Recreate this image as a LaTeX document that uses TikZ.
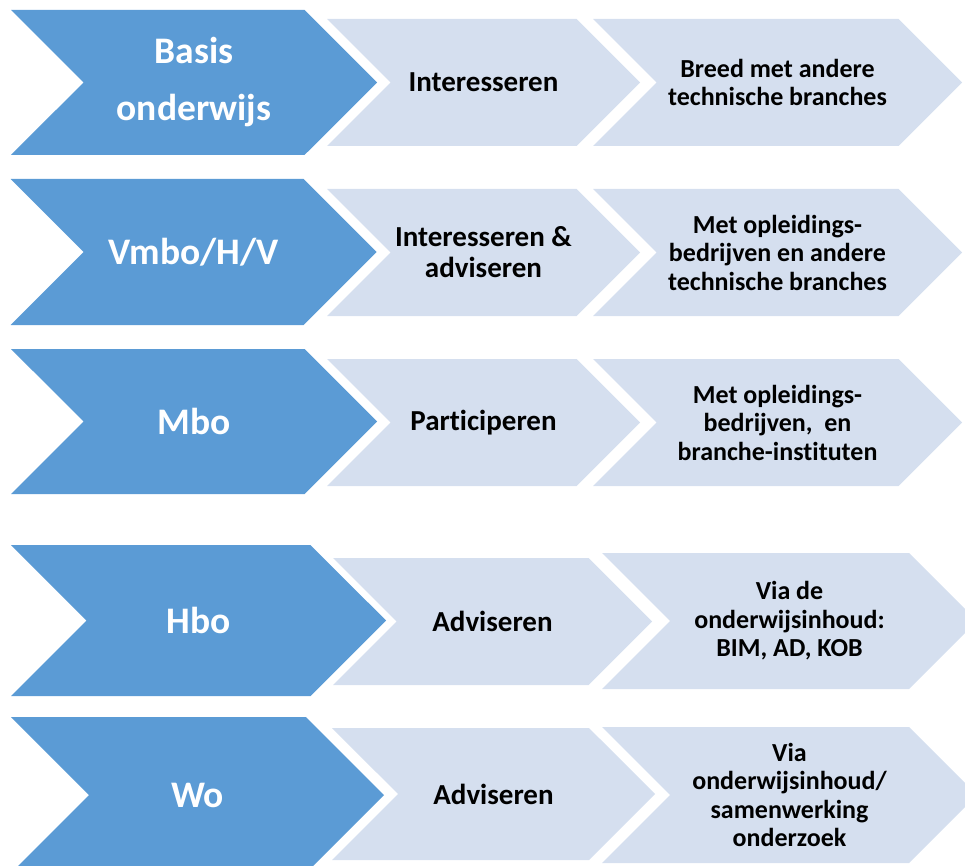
\documentclass[tikz,border=0pt]{standalone}
\usepackage{fontspec}
\setmainfont{Carlito}[Ligatures=NoCommon, Contextuals=NoAlternate]
\usepackage{tikz}
\usetikzlibrary{shapes}

\definecolor{donker}{RGB}{91,155,213}
\definecolor{licht}{RGB}{213,223,239}

\begin{document}
\begin{tikzpicture}[x=1pt, y=-1pt,
		every node/.style={shape=signal, signal to=east, signal from=west, signal pointer angle=90, inner sep=0pt, outer sep=0pt, align=center},
		soort/.style={fill=donker, text=white, font=\bfseries\fontsize{37.5}{57}\selectfont},
		rol/.style={fill=licht, font=\bfseries\fontsize{29}{31}\selectfont},
		wijze/.style={fill=licht, font=\bfseries\fontsize{26}{28.5}\selectfont}]
		\useasboundingbox (0,0) rectangle (965,866);

		\node[soort, minimum width=366pt, minimum height=145pt] (basis) at (194, 82.5) {Basis\\onderwijs};
		\node[rol, minimum width=313pt, minimum height=127pt] (basis-a) at (483.5, 82.5) {Interesseren};
		\node[wijze, minimum width=369pt, minimum height=127pt] (basis-b) at (777.5, 82.5) {Breed met andere\\technische branches};

		\node[soort, minimum width=366pt, minimum height=146pt] (vmbo) at (193.5, 252) {Vmbo/H/V};
		\node[rol, minimum width=313pt, minimum height=127pt] (vmbo-a) at (483.5, 252.5) {Interesseren \&\\adviseren};
		\node[wijze, minimum width=369pt, minimum height=127pt] (vmbo-b) at (777.5, 252.5) {Met opleidings-\\bedrijven en andere\\technische branches};

		\node[soort, minimum width=366pt, minimum height=145pt] (mbo) at (194, 421.5) {Mbo};
		\node[rol, minimum width=313pt, minimum height=127pt] (mbo-a) at (483.5, 422.5) {Participeren};
		\node[wijze, minimum width=369pt, minimum height=127pt] (mbo-b) at (777.5, 422.5) {Met opleidings-\\bedrijven,~ en\\branche-instituten};

		\node[soort, minimum width=375pt, minimum height=151pt] (hbo) at (198.5, 620.5) {Hbo};
		\node[rol, minimum width=319pt, minimum height=127pt] (hbo-a) at (492.5, 621.5) {Adviseren};
		\node[wijze, minimum width=375pt, minimum height=136pt] (hbo-b) at (789.5, 621) {Via de\\onderwijsinhoud:\\BIM, AD, KOB};

		\node[soort, minimum width=373pt, minimum height=156pt] (wo) at (197.5, 795) {Wo};
		\node[rol, minimum width=323pt, minimum height=132pt] (wo-a) at (493.5, 794) {Adviseren};
		\node[wijze, minimum width=375pt, minimum height=136pt] (wo-b) at (789.5, 795) {Via\\onderwijsinhoud/\\samenwerking\\onderzoek};
	\end{tikzpicture}
\end{document}
